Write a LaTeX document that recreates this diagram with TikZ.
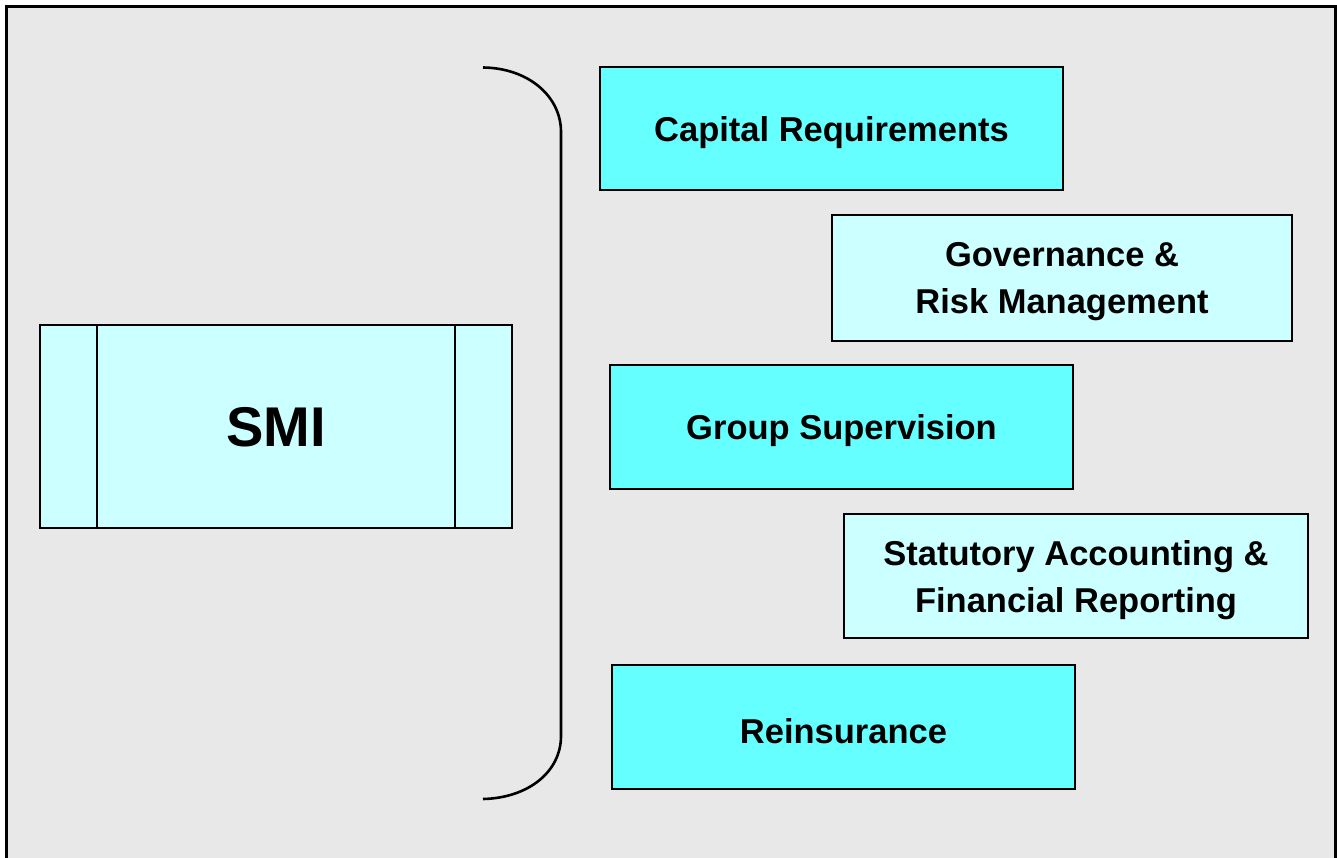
\documentclass[tikz,border=0pt]{standalone}
\usepackage{fontspec}
\setmainfont{Liberation Sans}
\definecolor{bgray}{HTML}{E8E8E8}
\definecolor{cyanA}{HTML}{66FFFF}
\definecolor{cyanB}{HTML}{CCFFFF}
\begin{document}
\begin{tikzpicture}[x=1pt,y=-1pt,
  boxA/.style={draw=black,line width=1.8pt,fill=cyanA,inner sep=0pt},
  boxB/.style={draw=black,line width=1.8pt,fill=cyanB,inner sep=0pt},
  lbl/.style={font=\fontsize{34.5}{47}\selectfont\bfseries,align=center,inner sep=0pt}]
\useasboundingbox (0,0) rectangle (1337,858);
\fill[white] (0,0) rectangle (1337,858);
\begin{scope}
\clip (0,0) rectangle (1337,858);
\draw[line width=3pt,fill=bgray] (6.5,6.5) rectangle (1335,875);
\end{scope}
% SMI box
\node[boxB,minimum width=472pt,minimum height=203pt] (smi) at (276,426.5) {};
\draw[line width=1.8pt] (97,325) -- (97,528);
\draw[line width=1.8pt] (455,325) -- (455,528);
\node[font=\fontsize{56}{60}\selectfont\bfseries,inner sep=0pt] (smit) at ([yshift=-1pt]smi.center) {SMI};
% bracket
\coordinate (bt) at (483,67.5);
\coordinate (bb) at (483,799);
\draw[line width=2.6pt] (bt) .. controls (528,68) and (561,96) .. (561,132) -- (561,736) .. controls (561,772) and (528,798) .. (bb);
% boxes
\node[boxA,minimum width=463pt,minimum height=123pt] (cap) at (831.5,128.5) {};
\node[lbl] (capt) at ([yshift=-4pt]cap.center) {Capital Requirements};
\node[boxB,minimum width=460pt,minimum height=126pt] (gov) at (1062,278) {};
\node[lbl] (govt) at ([yshift=-4pt]gov.center) {Governance \&\\Risk Management};
\node[boxA,minimum width=463pt,minimum height=124pt] (grp) at (841.5,427) {};
\node[lbl] (grpt) at ([yshift=-4pt]grp.center) {Group Supervision};
\node[boxB,minimum width=464pt,minimum height=124pt] (stat) at (1076,576) {};
\node[lbl] (statt) at ([yshift=-4pt]stat.center) {Statutory Accounting \&\\Financial Reporting};
\node[boxA,minimum width=463pt,minimum height=124pt] (re) at (843.5,727) {};
\node[lbl] (ret) at ([yshift=-4pt]re.center) {Reinsurance};
\end{tikzpicture}
\end{document}
